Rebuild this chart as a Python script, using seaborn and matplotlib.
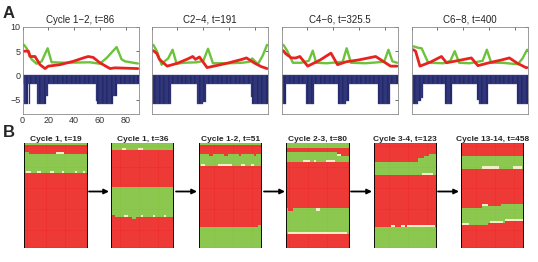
import numpy as np
import matplotlib
matplotlib.use("Agg")
import matplotlib.pyplot as plt
from matplotlib.colors import ListedColormap
import seaborn as sns

# ---------------- panel A data ----------------
titles_a = ["Cycle 1\u22122, t=86", "C2\u22124, t=191", "C4\u22126, t=325.5", "C6\u22128, t=400"]

# green trace (t, value)
green_t = [
    [1.2, 3.2, 7.1, 11, 14.9, 19.5, 22.6, 34.2, 52.3, 60, 65.3, 73, 76.9, 79.5, 86, 89.5],
    [1.3, 4, 7.7, 10, 12.8, 16.2, 19.3, 25, 35, 40, 43.7, 47.5, 60, 70, 75.8, 78, 82.3, 86, 89.5],
    [1.3, 4, 8.7, 15, 21, 24.1, 26.7, 35, 47.3, 50.4, 53.7, 65, 79.5, 82.8, 85.9, 89.5],
    [1.3, 5, 7.7, 12.8, 25, 30, 33.4, 36.8, 45, 55, 58.3, 61.7, 70, 82.3, 86, 89.5],
]
green_v = [
    [6.3, 5.6, 3.3, 2.4, 2.9, 5.6, 2.7, 2.6, 2.7, 2.4, 3.6, 5.85, 3.3, 2.9, 2.6, 2.45],
    [6.3, 5.0, 2.2, 2.9, 3.5, 5.3, 2.4, 2.6, 2.7, 3.0, 5.5, 2.5, 2.5, 2.6, 2.8, 3.5, 2.3, 4.0, 6.3],
    [6.3, 5.2, 2.6, 2.6, 3.0, 5.1, 2.6, 2.5, 2.8, 5.6, 2.6, 2.5, 2.8, 5.3, 2.9, 2.6],
    [6.0, 5.7, 5.6, 2.6, 2.5, 3.0, 5.0, 2.6, 2.5, 3.0, 5.3, 2.6, 2.6, 2.3, 3.5, 5.3],
]
# red trace (t, value)
red_t = [
    [1.2, 4.6, 5.8, 9.7, 13.6, 17.5, 20, 29, 39.4, 47.2, 51, 54.9, 60, 67.9, 71.7, 89.5],
    [1.3, 4, 6, 12, 20, 28, 31.8, 34, 37, 43, 50, 60, 70, 73.5, 80, 85, 89.5],
    [1.3, 3, 7.5, 11, 14.1, 20.2, 30, 38.2, 43.3, 50, 60, 72.9, 84.5, 89.5],
    [1.3, 3, 6.4, 15, 23.1, 27, 35, 46.3, 51.4, 60, 70, 75.8, 82, 88.6, 89.5],
]
red_v = [
    [5.0, 5.0, 3.9, 3.9, 2.2, 1.4, 1.9, 2.2, 2.9, 3.6, 3.9, 3.7, 2.6, 1.4, 1.55, 1.4],
    [5.1, 4.5, 3.3, 1.9, 2.5, 3.4, 3.9, 3.3, 3.8, 1.6, 2.0, 2.6, 3.3, 3.6, 2.5, 1.8, 1.4],
    [5.1, 4.5, 3.6, 3.6, 3.9, 1.9, 3.2, 4.6, 2.2, 2.8, 3.2, 3.9, 1.9, 1.9],
    [5.3, 5.0, 1.9, 2.8, 3.9, 2.6, 3.0, 3.6, 2.0, 2.6, 3.2, 3.6, 2.5, 1.6, 1.6],
]
# bar depths as run lengths (steps, depth), one bar per time step
bar_runs = [
    [(1, -1.7), (3, -6), (1, -1.7), (1, -6), (5, -1.7), (7, -6), (2, -4.3),
     (37, -1.7), (1, -5.4), (12, -6), (3, -4.3), (17, -1.7)],
    [(15, -6), (20, -1.7), (5, -6), (2, -5.5), (35, -1.7), (1, -4.5), (12, -6)],
    [(3, -6), (16, -1.7), (6, -6), (19, -1.7), (6, -6), (2, -5.3), (23, -1.7),
     (9, -6), (6, -1.7)],
    [(5, -6), (2, -5.4), (2, -4.6), (17, -1.7), (5, -6), (20, -1.7), (1, -5),
     (7, -6), (23, -1.7), (8, -6)],
]

# ---------------- panel B data ----------------
# cell states: 0 red, 1 green, 2 pale
titles_b = ["Cycle 1, t=19", "Cycle 1, t=36", "Cycle 1-2, t=51",
            "Cycle 2-3, t=80", "Cycle 3-4, t=123", "Cycle 13-14, t=458"]
n_rows, n_cols = 50, 30
row_runs = [
    [(1, 1), (0, 4), (1, 9), (0, 36)],
    [(1, 3), (0, 18), (1, 14), (0, 15)],
    [(1, 1), (0, 4), (1, 6), (0, 29), (1, 10)],
    [(1, 2), (0, 2), (1, 5), (0, 22), (1, 12), (0, 7)],
    [(0, 9), (1, 6), (0, 25), (1, 10)],
    [(0, 6), (1, 6), (0, 19), (1, 8), (0, 11)],
]
# (row, first col, last col + 1, state)
cell_edits = [
    [(4, 0, 2, 1), (4, 15, 19, 2), (13, 1, 3, 2), (13, 6, 8, 2), (13, 12, 14, 2),
     (13, 18, 19, 2), (13, 24, 25, 2), (13, 28, 29, 2)],
    [(2, 5, 7, 2), (2, 13, 15, 2), (34, 0, 2, 0), (34, 6, 8, 2), (34, 14, 15, 2),
     (34, 20, 21, 2), (34, 25, 26, 2), (35, 10, 12, 1)],
    [(5, 5, 7, 0), (5, 12, 14, 0), (5, 19, 20, 0), (5, 26, 27, 0), (10, 1, 3, 2),
     (10, 9, 16, 2), (10, 20, 22, 2), (10, 25, 26, 2), (39, 28, 30, 1)],
    [(4, 24, 30, 0), (5, 26, 30, 0), (5, 24, 26, 2), (8, 8, 11, 2), (8, 13, 14, 2),
     (8, 19, 23, 2), (31, 1, 3, 0), (31, 14, 16, 2), (42, 1, 29, 2)],
    [(7, 21, 30, 1), (8, 21, 30, 1), (6, 24, 30, 1), (5, 26, 30, 1), (14, 23, 28, 2),
     (39, 8, 10, 2), (39, 13, 15, 2), (39, 16, 29, 2)],
    [(30, 10, 30, 1), (29, 19, 30, 1), (29, 10, 13, 2), (11, 10, 18, 2),
     (11, 25, 29, 2), (38, 13, 30, 0), (37, 21, 30, 0), (38, 0, 4, 2),
     (37, 14, 20, 2), (36, 21, 30, 2)],
]

W, H = 538, 262
green_c, red_c, navy_c = "#6cc23a", "#e8231f", "#1c2266"
cell_cols = ["#ee2a26", "#84c441", "#f4eec4"]


def rect(l, t, r, b):
    return [l / W, 1 - b / H, (r - l) / W, (b - t) / H]


sns.set_style("white")
plt.rcParams["font.family"] = ["Liberation Sans", "DejaVu Sans"]

fig = plt.figure(figsize=(W / 100, H / 100), dpi=100)

a_lefts = [22.5, 151.7, 281.7, 411.7]
for i in range(4):
    ax = fig.add_axes(rect(a_lefts[i], 27, a_lefts[i] + 116, 114))
    depth = np.concatenate([[d] * n for n, d in bar_runs[i]])
    ax.bar(np.arange(len(depth)), depth, width=1, align="edge", color=navy_c,
           edgecolor="#4a4f8c", linewidth=0.25)
    sns.lineplot(x=green_t[i], y=green_v[i], ax=ax, color=green_c, lw=1.7)
    sns.lineplot(x=red_t[i], y=red_v[i], ax=ax, color=red_c, lw=2.0)
    ax.set_xlim(0, 90)
    ax.set_ylim(-8, 10)
    ax.set_xticks([0, 20, 40, 60, 80])
    ax.set_yticks([-5, 0, 5, 10])
    ax.tick_params(direction="in", length=2, width=0.5, top=True, right=True,
                   labelsize=6.5, colors="#333333", pad=1.5)
    if i > 0:
        ax.set_xticklabels([])
        ax.set_yticklabels([])
    for s in ax.spines.values():
        s.set_color("#8a8a8a")
        s.set_linewidth(0.6)
    ax.set_title(titles_a[i], fontsize=7, pad=3, color="#222222")

cmap = ListedColormap(cell_cols)
b_lefts = [24.3, 111, 198.7, 286.3, 373.7, 460.7]
for i in range(6):
    grid = np.concatenate([[c] * n for c, n in row_runs[i]])
    grid = np.repeat(grid[:, None], n_cols, axis=1)
    for r, c0, c1, s in cell_edits[i]:
        grid[r, c0:c1] = s
    ax = fig.add_axes(rect(b_lefts[i], 143.3, b_lefts[i] + 63.3, 248.3))
    sns.heatmap(grid, ax=ax, cmap=cmap, vmin=-0.5, vmax=2.5, cbar=False,
                xticklabels=False, yticklabels=False)
    # faint cell texture
    ax.hlines(np.arange(1, n_rows), 0, n_cols, color="white", lw=0.3, alpha=0.18)
    ax.vlines(np.arange(1, n_cols), 0, n_rows, color="white", lw=0.3, alpha=0.18)
    ax.axvline(0, color="k", lw=1.3)
    ax.axvline(n_cols, color="k", lw=1.3)
    ax.set_title(titles_b[i], fontsize=6, fontweight="bold", pad=2,
                 family=["Liberation Sans Narrow", "Liberation Sans"])

arrow_x = [(89, 109), (176, 197), (264, 285), (351, 372), (438, 459)]
for x0, x1 in arrow_x:
    ax.annotate("", xy=(x1, H - 191.5), xytext=(x0, H - 191.5),
                xycoords="figure pixels", textcoords="figure pixels",
                arrowprops=dict(arrowstyle="-|>", color="k", lw=1.3,
                                mutation_scale=7, shrinkA=0, shrinkB=0))

fig.text(3 / W, 1 - 18 / H, "A", fontsize=12, fontweight="bold", va="baseline")
fig.text(3 / W, 1 - 137 / H, "B", fontsize=12, fontweight="bold", va="baseline")

fig.savefig("out.png", dpi=100)
